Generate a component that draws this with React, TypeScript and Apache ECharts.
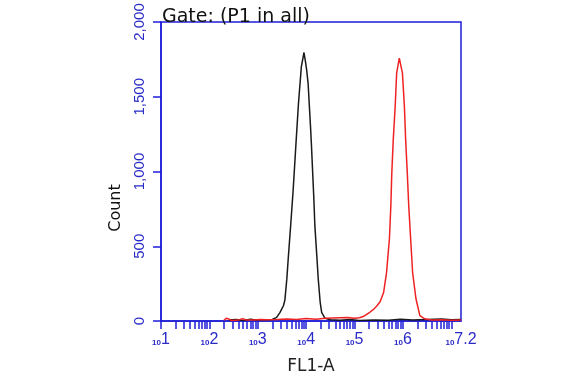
import React, { useEffect, useRef } from "react";
import * as echarts from "echarts";

// Histogram: x = log10(FL1-A), y = count
const blackExp = [2.4, 2.55, 2.7, 2.85, 3.0, 3.15, 3.3, 3.39, 3.46, 3.53, 3.56, 3.6, 3.63, 3.68, 3.73, 3.79, 3.84, 3.9, 3.955, 3.98, 4.01, 4.04, 4.09, 4.11, 4.135, 4.16, 4.18, 4.22, 4.25, 4.29, 4.32, 4.39, 4.5, 4.7, 4.9, 5.1, 5.4, 5.7, 5.95, 6.2, 6.5, 6.8, 7.0, 7.2];
const blackCount = [6, 10, 4, 12, 6, 8, 10, 24, 58, 102, 140, 280, 420, 640, 870, 1190, 1450, 1700, 1796, 1747, 1680, 1590, 1300, 1170, 990, 810, 636, 436, 280, 124, 58, 18, 8, 5, 10, 4, 6, 5, 12, 6, 10, 14, 8, 10];

const redExp = [2.3, 2.35, 2.4, 2.45, 2.6, 2.68, 2.75, 2.9, 3.05, 3.2, 3.4, 3.6, 3.8, 4.0, 4.2, 4.4, 4.55, 4.7, 4.85, 5.0, 5.1, 5.18, 5.25, 5.32, 5.4, 5.46, 5.53, 5.6, 5.66, 5.72, 5.75, 5.77, 5.8, 5.84, 5.87, 5.925, 5.99, 6.03, 6.056, 6.09, 6.12, 6.16, 6.2, 6.27, 6.35, 6.46, 6.6, 6.8, 7.0, 7.2];
const redCount = [5, 18, 14, 4, 6, 16, 8, 6, 10, 8, 10, 14, 10, 16, 12, 18, 20, 22, 24, 18, 22, 30, 45, 60, 80, 100, 130, 190, 320, 547, 769, 991, 1213, 1436, 1658, 1758, 1658, 1436, 1213, 991, 769, 547, 324, 147, 36, 13, 6, 8, 5, 6];

const xLabelExps = [1, 2, 3, 4, 5, 6, 7.2];
const tickDecades = [1, 2, 3, 4, 5, 6];
const tickMantissas = [1, 2, 3, 4, 5, 6, 7, 8, 9];
const xMaxExp = 7.2;
const yMax = 2000;
const yStep = 500;

const BLUE = "#1e1ed8";
const LABEL_BLUE = "#2a2ac8";

export default function App() {
  const ref = useRef<HTMLDivElement>(null);
  useEffect(() => {
    const chart = echarts.init(ref.current!, null, { renderer: "svg" });
    const pairs = (ex: number[], c: number[]) => ex.map((e, i) => [Math.pow(10, e), c[i]]);
    const tickValues: number[] = [];
    tickDecades.forEach((d) => tickMantissas.forEach((m) => tickValues.push(m * Math.pow(10, d))));
    tickValues.push(Math.pow(10, 7));
    // keep the last label a hair inside the extent so it is not filtered out
    const labelValues = xLabelExps.map((e) => Math.pow(10, e) * (e === xMaxExp ? 0.99999 : 1));

    chart.setOption({
      animation: false,
      title: {
        text: "Gate: (P1 in all)",
        left: 157,
        top: 0,
        textStyle: { fontFamily: "DejaVu Sans", fontSize: 19, fontWeight: "normal", color: "#111" },
      },
      grid: {
        left: 161,
        top: 22,
        width: 300,
        height: 300,
        show: true,
        borderColor: BLUE,
        borderWidth: 1.5,
        backgroundColor: "transparent",
      },
      xAxis: {
        type: "log",
        logBase: 10,
        min: 10,
        max: Math.pow(10, xMaxExp),
        name: "FL1-A",
        nameLocation: "middle",
        nameGap: 35,
        nameTextStyle: { fontFamily: "DejaVu Sans", fontSize: 17, color: "#222" },
        axisLine: { show: true, lineStyle: { color: BLUE, width: 1.5 } },
        axisTick: { show: true, length: 8, customValues: tickValues, lineStyle: { color: BLUE, width: 1.5 } },
        axisLabel: {
          customValues: labelValues,
          showMaxLabel: true,
          margin: 9,
          formatter: (v: number) => {
            const e = Math.round(Math.log10(v) * 10) / 10;
            return "{s|10}{e|" + e + "}";
          },
          rich: {
            s: { fontSize: 8, fontWeight: "bold", color: LABEL_BLUE, fontFamily: "Liberation Sans", verticalAlign: "bottom" },
            e: { fontSize: 16, color: LABEL_BLUE, fontFamily: "Liberation Sans" },
          },
        },
        splitLine: { show: false },
      },
      yAxis: {
        type: "value",
        min: 0,
        max: yMax,
        interval: yStep,
        axisLine: { show: true, lineStyle: { color: BLUE, width: 1.5 } },
        axisTick: { show: true, length: 8, lineStyle: { color: BLUE, width: 1.5 } },
        axisLabel: {
          rotate: 90,
          margin: 15,
          fontSize: 15,
          fontFamily: "Liberation Sans",
          color: LABEL_BLUE,
          formatter: (v: number) => v.toLocaleString("en-US"),
        },
        splitLine: { show: false },
      },
      graphic: [
        {
          type: "text",
          x: 114,
          y: 208,
          rotation: Math.PI / 2,
          style: {
            text: "Count",
            fontSize: 16,
            fontFamily: "DejaVu Sans",
            fill: "#111",
            align: "center",
            verticalAlign: "middle",
          },
        },
      ],
      series: [
        {
          type: "line",
          data: pairs(blackExp, blackCount),
          symbol: "none",
          lineStyle: { color: "#1a1a1a", width: 1.5 },
          z: 3,
        },
        {
          type: "line",
          data: pairs(redExp, redCount),
          symbol: "none",
          lineStyle: { color: "#ee2222", width: 1.5 },
          z: 4,
        },
      ],
    });
    return () => chart.dispose();
  }, []);
  return <div ref={ref} style={{ position: "fixed", left: 0, top: 0, width: 582, height: 378 }} />;
}
